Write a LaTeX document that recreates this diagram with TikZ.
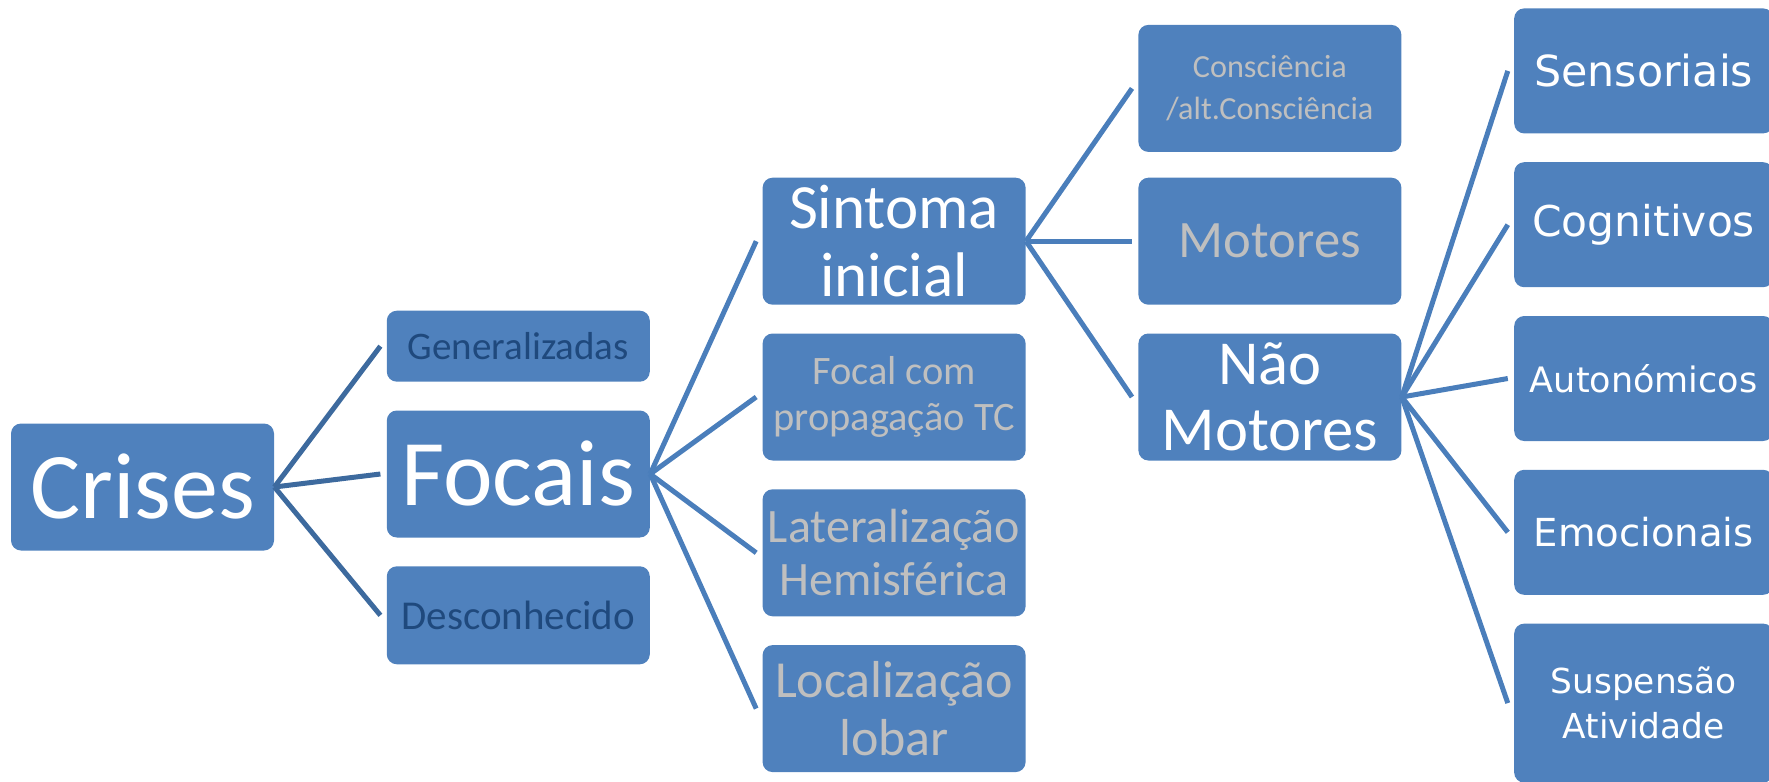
\documentclass[tikz,border=0pt]{standalone}
\usepackage{fontspec}
\setmainfont{Carlito}
\newfontfamily\widefont{DejaVu Sans}
\usepackage{xcolor}
\usetikzlibrary{positioning}

\definecolor{boxblue}{HTML}{4F81BD}
\definecolor{linkblue}{HTML}{4A7EBB}
\definecolor{darklink}{HTML}{3D6A9E}
\definecolor{darktext}{HTML}{1F497D}
\definecolor{greytext}{HTML}{BFBFBF}

\begin{document}
\begin{tikzpicture}[node distance=14pt and 56pt]
  \tikzset{
    box/.style={rectangle, rounded corners=5pt, fill=boxblue, text=white,
      minimum width=131.5pt, minimum height=63.5pt, align=center, inner sep=1pt},
    leaf/.style={box, minimum width=129.5pt, minimum height=62.5pt, font=\widefont},
    link/.style={draw=linkblue, line width=2.5pt}
  }
  \useasboundingbox (0,0) rectangle (884.5pt,-391pt);
  \clip (0,0) rectangle (884.5pt,-391pt);

  % nivel 1 e 2
  \node[box, font=\fontsize{47}{50}\selectfont] (crises) at (71.25pt,-243.5pt) {Crises};
  \node[box, font=\fontsize{47}{50}\selectfont] (focais) [right=of crises, yshift=6.5pt] {Focais};
  \node[box, minimum height=35.5pt, text=darktext, font=\fontsize{19.5}{22}\selectfont] (gen) [above=of focais] {Generalizadas};
  \node[box, minimum height=49pt, text=darktext, font=\fontsize{20.5}{22}\selectfont] (desc) [below=of focais] {Desconhecido};

  % nivel 3
  \node[box, text=greytext, font=\fontsize{20.2}{23}\selectfont] (focal) [right=of focais, yshift=38.5pt] {Focal com\\propagação TC};
  \node[box, font=\fontsize{31.5}{34}\selectfont] (sintoma) [above=of focal] {Sintoma\\inicial};
  \node[box, text=greytext, font=\fontsize{24}{26.5}\selectfont] (lateral) [below=of focal] {Lateralização\\Hemisférica};
  \node[box, text=greytext, font=\fontsize{26}{29}\selectfont] (lobar) [below=of lateral] {Localização\\lobar};

  % nivel 4
  \node[box, text=greytext, font=\fontsize{26.3}{28}\selectfont] (motores) [right=of sintoma] {Motores};
  \node[box, text=greytext, font=\fontsize{16.1}{21}\selectfont] (consc) [above=of motores, yshift=-1.5pt] {Consciência\\/alt.Consciência};
  \node[box, font=\fontsize{31.3}{33}\selectfont] (naomot) [below=of motores] {Não\\Motores};

  % nivel 5
  \node[leaf, font=\widefont\fontsize{17.5}{20}\selectfont] (auton) [right=of naomot, yshift=9.25pt] {Autonómicos};
  \node[leaf, font=\widefont\fontsize{21.2}{24}\selectfont] (cogn) [above=of auton] {Cognitivos};
  \node[leaf, font=\widefont\fontsize{21.4}{24}\selectfont] (sens) [above=of cogn] {Sensoriais};
  \node[leaf, font=\widefont\fontsize{19.3}{22}\selectfont] (emoc) [below=of auton] {Emocionais};
  \node[leaf, minimum height=79.5pt, font=\widefont\fontsize{17.2}{22.6}\selectfont] (susp) [below=of emoc] {Suspensão\\Atividade};

  % ligacoes
  \foreach \n in {gen,focais,desc}
    \draw[link, draw=darklink] (crises.east) -- ([xshift=-3pt]\n.west);
  \foreach \n in {sintoma,focal,lateral,lobar}
    \draw[link] (focais.east) -- ([xshift=-3pt]\n.west);
  \foreach \n in {consc,motores,naomot}
    \draw[link] (sintoma.east) -- ([xshift=-3pt]\n.west);
  \foreach \n in {sens,cogn,auton,emoc,susp}
    \draw[link] (naomot.east) -- ([xshift=-3pt]\n.west);
\end{tikzpicture}
\end{document}
